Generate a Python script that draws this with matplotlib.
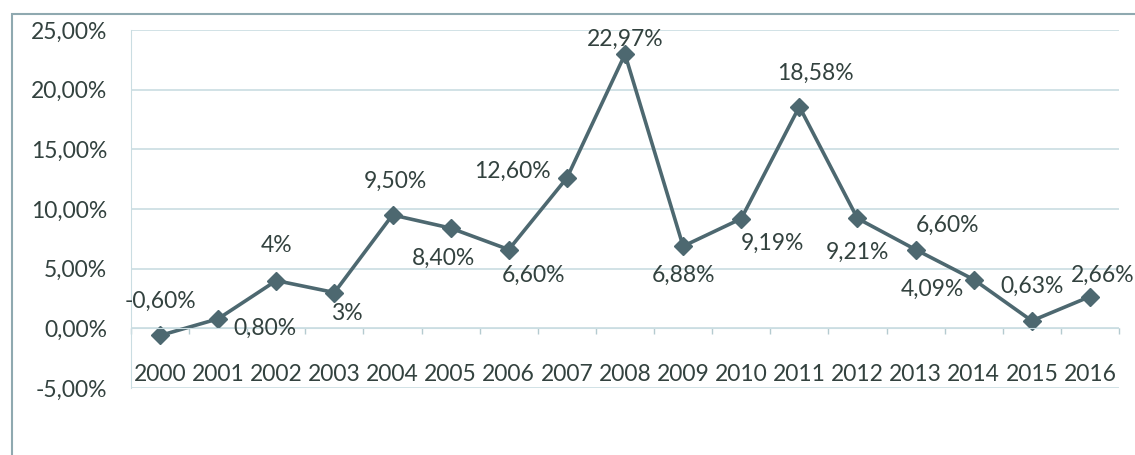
import matplotlib.pyplot as plt
from matplotlib.patches import Rectangle
from matplotlib.ticker import FuncFormatter, FixedLocator

# datos
anios = ['2000', '2001', '2002', '2003', '2004', '2005', '2006', '2007', '2008',
         '2009', '2010', '2011', '2012', '2013', '2014', '2015', '2016']
valores = [-0.60, 0.80, 4.0, 3.0, 9.50, 8.40, 6.60, 12.60, 22.97,
           6.88, 9.19, 18.58, 9.21, 6.60, 4.09, 0.63, 2.66]
etiquetas = ['-0,60%', '0,80%', '4%', '3%', '9,50%', '8,40%', '6,60%', '12,60%', '22,97%',
             '6,88%', '9,19%', '18,58%', '9,21%', '6,60%', '4,09%', '0,63%', '2,66%']
# desplazamiento de cada etiqueta respecto al punto (pixeles)
desp = [(0, 34), (47, -10), (0, 35), (12, -21), (3, 34), (-7, -30), (25, -26), (-54, 7), (0, 15),
        (0, -29), (31, -25), (16, 33), (0, -34), (32, 24), (-41, -10), (0, 34), (13, 21)]

color_linea = '#4d6870'
color_texto = '#33423f'
color_grid = '#cadde2'

plt.rcParams['font.family'] = ['Lato', 'DejaVu Sans']

fig = plt.figure(figsize=(11.35, 4.55), dpi=100)
ax = fig.add_axes([131 / 1135, 1 - 388 / 455, (1119 - 131) / 1135, (388 - 30) / 455])

x = list(range(len(anios)))
ax.plot(x, valores, color=color_linea, lw=2.6, marker='D', ms=9, mfc=color_linea, mec=color_linea)

for i, (v, t) in enumerate(zip(valores, etiquetas)):
    ax.annotate(t, (i, v), xytext=desp[i], textcoords='offset pixels',
                ha='center', va='center', fontsize=16.5, color=color_texto)

ax.set_ylim(-5, 25)
ax.set_xlim(-0.5, len(anios) - 0.5)
ax.set_yticks([-5, 0, 5, 10, 15, 20, 25])
ax.yaxis.set_major_formatter(FuncFormatter(lambda v, p: f'{v:.2f}%'.replace('.', ',')))
ax.tick_params(axis='y', length=0, pad=17, labelsize=16.5, labelcolor=color_texto)
ax.grid(axis='y', color=color_grid, lw=1.2)
ax.set_axisbelow(True)

ax.spines['top'].set_visible(False)
ax.spines['right'].set_visible(False)
ax.spines['left'].set_color(color_grid)
ax.spines['bottom'].set_position(('data', 0))
ax.spines['bottom'].set_color(color_grid)

ax.set_xticks(x)
ax.set_xticklabels(anios)
ax.tick_params(axis='x', which='major', length=0, pad=26, labelsize=16.5, labelcolor=color_texto)
ax.xaxis.set_minor_locator(FixedLocator([i - 0.5 for i in range(len(anios) + 1)]))
ax.tick_params(axis='x', which='minor', length=4, width=1, color='#b5cbd0', direction='out')

# marco exterior del grafico
fig.patches.append(Rectangle((12 / 1135, -0.1), 1.1, 1.1 - 14 / 455, transform=fig.transFigure,
                             fill=False, ec='#8fa9b0', lw=1.5))

fig.savefig('out.png', dpi=100, facecolor='white')
